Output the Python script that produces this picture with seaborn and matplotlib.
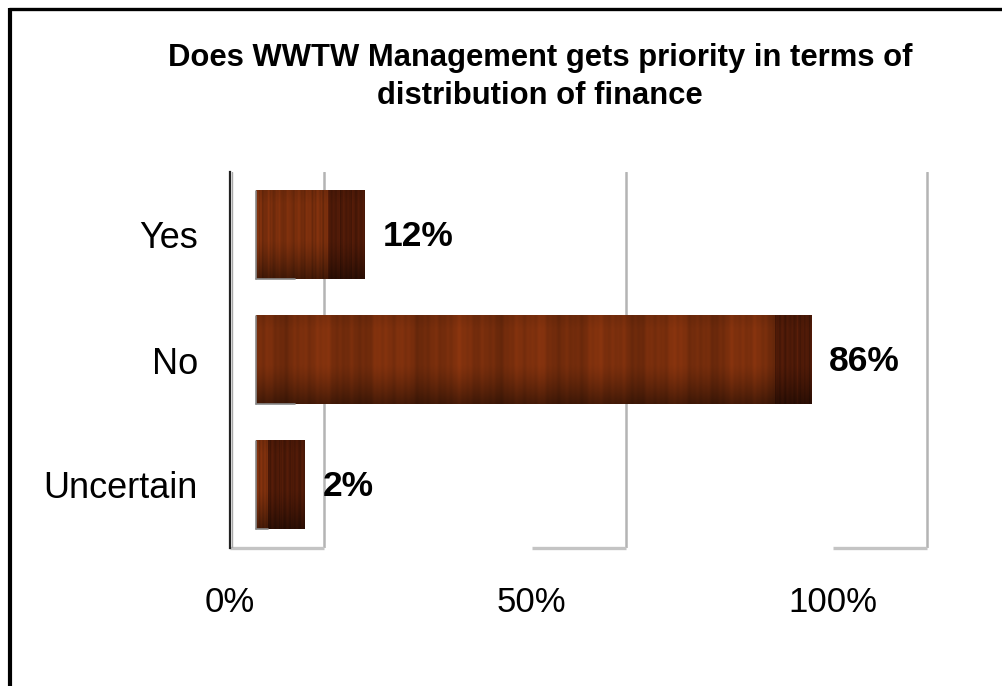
import numpy as np
import pandas as pd
import matplotlib
matplotlib.use("Agg")
import matplotlib.pyplot as plt
from matplotlib.lines import Line2D
import seaborn as sns

# Survey answers and their shares (percent)
categories = ["Yes", "No", "Uncertain"]
shares = [12, 86, 2]
tick_values = [0, 50, 100]
tick_labels = ["0%", "50%", "100%"]
title = "Does WWTW Management gets priority in terms of\ndistribution of finance"

sns.set_theme(style="white")
plt.rcParams["font.family"] = ["Liberation Sans", "DejaVu Sans"]
plt.rcParams["text.color"] = "black"
plt.rcParams["xtick.color"] = "black"
plt.rcParams["ytick.color"] = "black"

W_PX, H_PX, DPI = 1002, 686, 100
fig = plt.figure(figsize=(W_PX / DPI, H_PX / DPI), dpi=DPI)
fig.patch.set_facecolor("white")

# plot area (pixel layout of the pseudo-3D wall)
left_px, right_px, top_px, floor_px = 230, 960, 172, 548
ax = fig.add_axes([left_px / W_PX, 1 - floor_px / H_PX,
                   (right_px - left_px) / W_PX, (floor_px - top_px) / H_PX])

px_per_unit = 6.03           # pixels per percentage point
bar_origin_px = 256          # where the bars start (mid depth)
front_off = (left_px - bar_origin_px) / px_per_unit   # front edge of floor
back_off = (324 - bar_origin_px) / px_per_unit        # back wall
cap_len = 6.0                # visible end face of each 3D bar
x_lo = front_off
x_hi = front_off + (right_px - left_px) / px_per_unit
y_top, y_bot = -0.504, 2.504
bar_w = 0.71

df = pd.DataFrame({"answer": categories, "share": shares})

# back wall gridlines and floor lines
grid_c = "#b4b4b4"
for v in tick_values:
    ax.axvline(v + back_off, color=grid_c, lw=1.8, zorder=0.5)
    ax.plot([v + front_off, v + back_off], [y_bot, y_bot], color="#c4c4c4",
            lw=2.4, clip_on=False, zorder=0.5, solid_capstyle="butt")

sns.barplot(data=df, x="share", y="answer", orient="h", order=categories,
            width=bar_w, color="#6e2a0c", saturation=1, ax=ax, zorder=2,
            edgecolor="none")


def grain(n, phase):
    x = np.linspace(0, 1, n)
    g = (0.45 * np.sin(2 * np.pi * (7.3 * x + phase))
         + 0.30 * np.sin(2 * np.pi * (19.1 * x + 2 * phase))
         + 0.20 * np.sin(2 * np.pi * (43.7 * x + 0.5 * phase))
         + 0.15 * np.sin(2 * np.pi * (91.3 * x + 1.3 * phase)))
    return g


def wood(nx, ny, base, phase, amp=0.16):
    g = grain(nx, phase)[None, :]
    yy = np.linspace(0, 1, ny)[:, None]
    shade = 1.0 - 0.45 * np.clip((yy - 0.55) / 0.45, 0, 1) ** 1.3
    shade = shade * (1.0 - 0.08 * np.clip((0.15 - yy) / 0.15, 0, 1))
    base = np.array(base)[None, None, :]
    img = base * (1 + amp * g)[..., None] * shade[..., None]
    return np.clip(img, 0, 1)


face_base = (0.47, 0.18, 0.05)
cap_base = (0.30, 0.10, 0.03)
for i, v in enumerate(shares):
    y0, y1 = i - bar_w / 2, i + bar_w / 2
    nx = max(int(v * px_per_unit), 4)
    ax.imshow(wood(nx, 60, face_base, 0.37 * i), extent=(0, v, y1, y0),
              aspect="auto", interpolation="bilinear", zorder=3)
    ax.imshow(wood(40, 60, cap_base, 0.61 * i + 0.2, amp=0.22),
              extent=(v, v + cap_len, y1, y0),
              aspect="auto", interpolation="bilinear", zorder=3)
    # thin grey edge on the bar's near side
    ax.plot([0, 0], [y0, y1], color="#8a8a8a", lw=1.2, zorder=4)
    ax.plot([0, min(v, 6.5)], [y1, y1], color="#8a8a8a", lw=1.2, zorder=4)
    ax.text(v + cap_len + 3.0, i + 0.015, f"{v}%", ha="left", va="center",
            fontsize=25.5, fontweight="bold", color="black", zorder=5)

ax.set_xlim(x_lo, x_hi)
ax.set_ylim(y_bot, y_top)

ax.set_xticks([v + front_off for v in tick_values])
ax.set_xticklabels(tick_labels, fontsize=25)
ax.set_yticks(range(len(categories)))
ax.set_yticklabels(categories, fontsize=26)
ax.tick_params(axis="x", length=0, pad=27)
ax.tick_params(axis="y", length=0, pad=23)
ax.set_xlabel("")
ax.set_ylabel("")
ax.grid(False)
ax.set_facecolor("none")
for s in ["top", "right", "bottom"]:
    ax.spines[s].set_visible(False)
ax.spines["left"].set_color("#222222")
ax.spines["left"].set_linewidth(1.6)
ax.axvline(x_lo + 0.35, color="#a8a8a8", lw=1.0, zorder=0.6)

fig.text(540 / W_PX, 1 - 77 / H_PX, title, ha="center", va="center",
         fontsize=22.3, fontweight="bold", linespacing=1.32, color="black")

# outer frame: left and top edges
fig.add_artist(Line2D([10 / W_PX, 10 / W_PX], [0, 1 - 8 / H_PX],
                      color="black", lw=3.0, transform=fig.transFigure,
                      solid_capstyle="butt"))
fig.add_artist(Line2D([8.5 / W_PX, 1], [1 - 8.5 / H_PX, 1 - 8.5 / H_PX],
                      color="black", lw=2.4, transform=fig.transFigure,
                      solid_capstyle="butt"))

fig.savefig("out.png", dpi=DPI, facecolor="white")
